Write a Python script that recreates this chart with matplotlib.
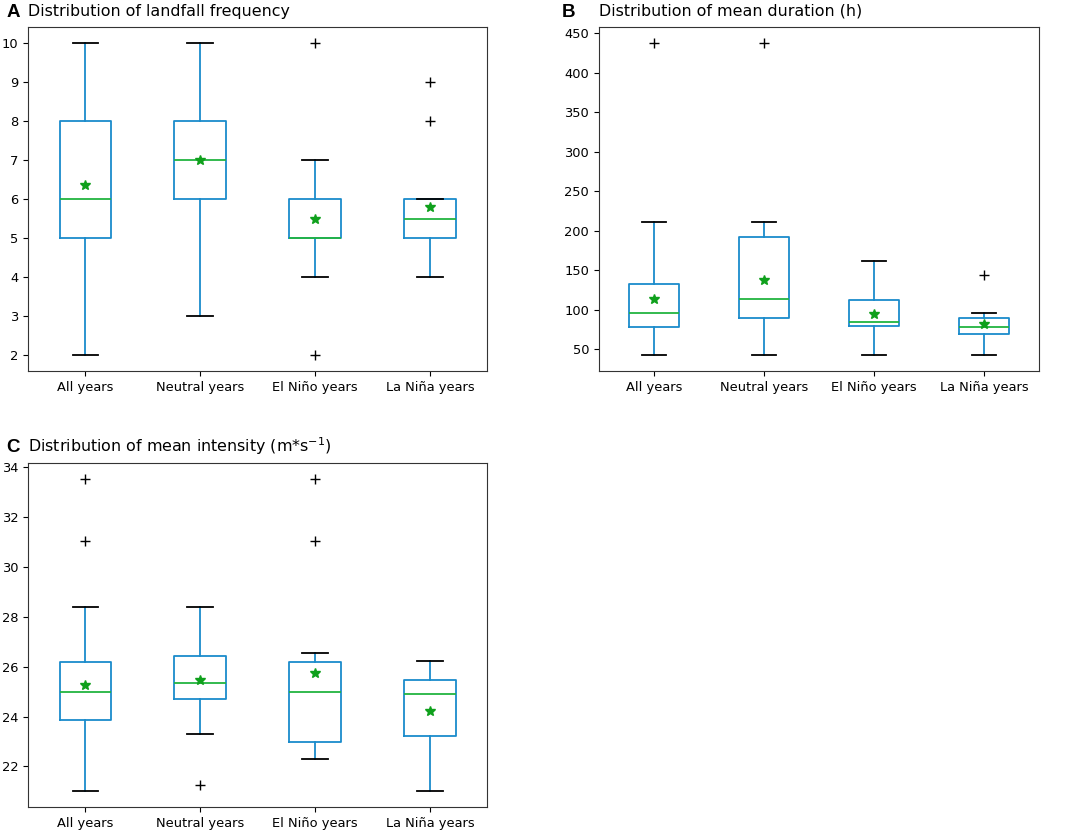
import matplotlib
matplotlib.use("Agg")
import matplotlib.pyplot as plt

categories = ["All years", "Neutral years", "El Niño years", "La Niña years"]

# A: landfall frequency
freq_whislo = [2, 3, 4, 4]
freq_q1 = [5, 6, 5, 5]
freq_med = [6, 7, 5, 5.5]
freq_q3 = [8, 8, 6, 6]
freq_whishi = [10, 10, 7, 6]
freq_mean = [6.35, 7.0, 5.5, 5.8]
freq_fliers = [[], [], [10, 2], [9, 8]]

# B: mean duration (h)
dur_whislo = [42, 42, 42, 42]
dur_q1 = [78, 90, 79.5, 69]
dur_med = [96, 114, 84, 78]
dur_q3 = [132, 192, 112, 90]
dur_whishi = [211, 211, 162, 96]
dur_mean = [114, 138, 95, 82]
dur_fliers = [[438], [438], [], [144]]

# C: mean intensity
int_whislo = [21.0, 23.31, 22.3, 21.0]
int_q1 = [23.86, 24.71, 22.98, 23.23]
int_med = [25.0, 25.35, 25.0, 24.89]
int_q3 = [26.19, 26.42, 26.19, 25.49]
int_whishi = [28.38, 28.38, 26.56, 26.23]
int_mean = [25.25, 25.49, 25.75, 24.21]
int_fliers = [[33.55, 31.06], [21.24], [33.55, 31.06], []]

box_col = "#1a8bcb"
med_col = "#22b440"
mean_col = "#0fa01c"


def make_stats(whislo, q1, med, q3, whishi, mean, fliers):
    stats = []
    for i in range(len(categories)):
        stats.append({"label": categories[i], "whislo": whislo[i], "q1": q1[i],
                      "med": med[i], "q3": q3[i], "whishi": whishi[i],
                      "mean": mean[i], "fliers": fliers[i]})
    return stats


def draw(ax, stats, title):
    ax.bxp(stats, showmeans=True, widths=0.45,
           boxprops=dict(color=box_col, linewidth=1.3),
           whiskerprops=dict(color=box_col, linewidth=1.3),
           capprops=dict(color="black", linewidth=1.3),
           medianprops=dict(color=med_col, linewidth=1.3),
           meanprops=dict(marker="*", markerfacecolor=mean_col, markeredgecolor=mean_col, markersize=7),
           flierprops=dict(marker="+", markeredgecolor="black", markersize=7))
    ax.set_title(title, loc="left", fontsize=11.4, pad=8)
    ax.tick_params(labelsize=9.4)
    for s in ax.spines.values():
        s.set_color("#333333")


fig = plt.figure(figsize=(10.65, 8.32), dpi=100)

axA = fig.add_axes([0.0263, 0.554, 0.4314, 0.4135])
draw(axA, make_stats(freq_whislo, freq_q1, freq_med, freq_q3, freq_whishi, freq_mean, freq_fliers),
     "Distribution of landfall frequency")

axB = fig.add_axes([0.5624, 0.554, 0.4131, 0.4135])
draw(axB, make_stats(dur_whislo, dur_q1, dur_med, dur_q3, dur_whishi, dur_mean, dur_fliers),
     "Distribution of mean duration (h)")

axC = fig.add_axes([0.0263, 0.030, 0.4314, 0.4135])
draw(axC, make_stats(int_whislo, int_q1, int_med, int_q3, int_whishi, int_mean, int_fliers),
     "Distribution of mean intensity (m*s$^{-1}$)")

for lab, x, y in [("A", 0.006, 0.9796), ("B", 0.527, 0.9796), ("C", 0.006, 0.457)]:
    fig.text(x, y, lab, fontsize=13.5, fontweight="bold", family="Liberation Sans", va="baseline")

fig.savefig("out.png", dpi=100)
